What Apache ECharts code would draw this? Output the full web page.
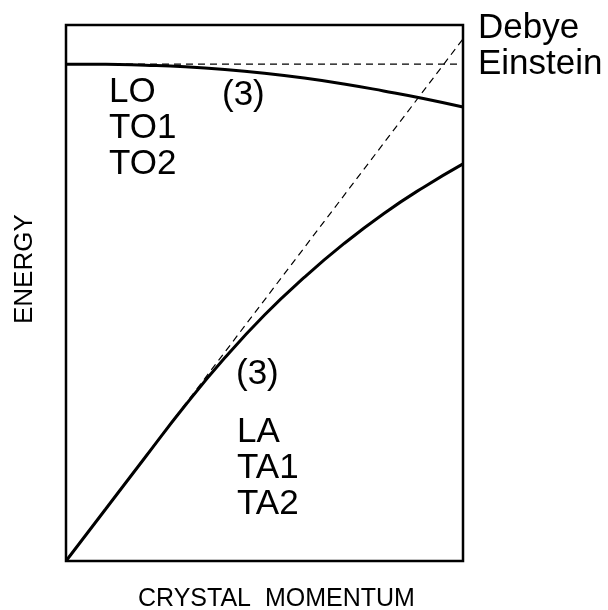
<!DOCTYPE html>
<html>
<head>
<meta charset="utf-8">
<script src="https://cdn.jsdelivr.net/npm/echarts@6/dist/echarts.min.js"></script>
<style>
  html,body{margin:0;padding:0;background:#fff;}
  .main{width:608px;height:610px;}
</style>
</head>
<body>
<div class="main"></div>
<script>
// crystal momentum, as a fraction of the zone edge
var momentum = [0, 0.1, 0.2, 0.3, 0.4, 0.5, 0.6, 0.7, 0.8, 0.9, 1.0];
// energies
var acoustic = [0, 0.097, 0.194, 0.290, 0.379, 0.459, 0.529, 0.592, 0.648, 0.697, 0.741];
var optical  = [0.927, 0.927, 0.925, 0.922, 0.917, 0.910, 0.901, 0.890, 0.877, 0.863, 0.847];
var debye    = [[0, 0], [1, 0.974]];
var einstein = [[0, 0.927], [1, 0.927]];

var font = '"Liberation Sans", Arial, sans-serif';

function pairs(ys) {
  return momentum.map(function(x, i){ return [x, ys[i]]; });
}

function label(text, x, y, size) {
  return {
    type: 'text', left: x, top: y,
    style: { text: text, font: size + 'px ' + font, fill: '#000', lineHeight: 36 }
  };
}

var myChart = echarts.init(document.querySelector('.main'));
var option = {
  animation: false,
  grid: {
    left: 66, top: 25, right: 145, bottom: 49,
    show: true, borderColor: '#000', borderWidth: 2.5, backgroundColor: 'transparent'
  },
  xAxis: { type: 'value', min: 0, max: 1, show: false },
  yAxis: { type: 'value', min: 0, max: 1, show: false },
  series: [
    { type: 'line', data: debye, symbol: 'none',
      lineStyle: { color: '#000', width: 1.2, type: [7, 5] } },
    { type: 'line', data: einstein, symbol: 'none',
      lineStyle: { color: '#000', width: 1.2, type: [7, 5] } },
    { type: 'line', data: pairs(acoustic), symbol: 'none', smooth: true,
      lineStyle: { color: '#000', width: 3 } },
    { type: 'line', data: pairs(optical), symbol: 'none', smooth: true,
      lineStyle: { color: '#000', width: 3 } }
  ],
  graphic: [
    label('Debye\nEinstein', 478, 10, 35),
    label('LO\nTO1\nTO2', 109, 74, 35),
    label('(3)', 222, 77, 35),
    label('(3)', 236, 356, 35),
    label('LA\nTA1\nTA2', 237, 414, 35),
    label('CRYSTAL  MOMENTUM', 138, 581, 25),
    {
      type: 'text',
      style: { text: 'ENERGY', font: '26px ' + font, fill: '#000' },
      rotation: Math.PI / 2,
      x: 12, y: 324
    }
  ]
};
myChart.setOption(option);
</script>
</body>
</html>
